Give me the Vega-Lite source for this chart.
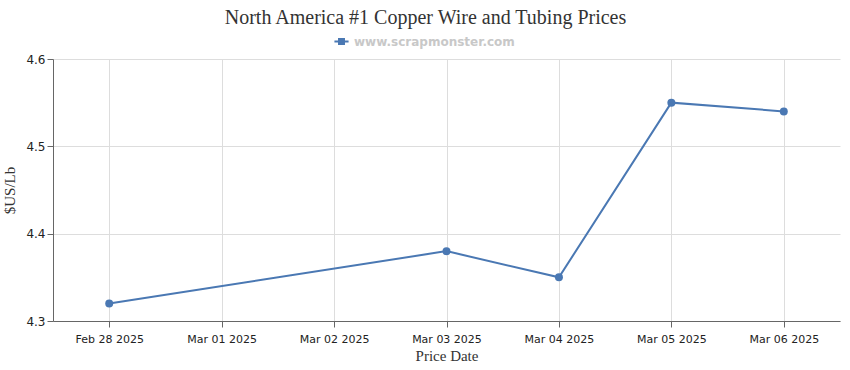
{
  "$schema": "https://vega.github.io/schema/vega-lite/v6.json",
  "width": 787,
  "height": 262,
  "autosize": {"type": "none"},
  "padding": {"left": 53, "top": 59, "right": 10, "bottom": 49},
  "background": "white",
  "title": {
    "text": "North America #1 Copper Wire and Tubing Prices",
    "font": "Liberation Serif",
    "fontSize": 20,
    "fontWeight": "normal",
    "color": "#333333",
    "anchor": "middle",
    "dx": -21,
    "offset": 5
  },
  "data": {
    "values": [
      {"date": "Feb 28 2025", "price": 4.32},
      {"date": "Mar 03 2025", "price": 4.38},
      {"date": "Mar 04 2025", "price": 4.35},
      {"date": "Mar 05 2025", "price": 4.55},
      {"date": "Mar 06 2025", "price": 4.54}
    ]
  },
  "encoding": {
    "x": {
      "field": "date",
      "type": "ordinal",
      "sort": null,
      "scale": {
        "type": "point",
        "padding": 0.5,
        "domain": ["Feb 28 2025", "Mar 01 2025", "Mar 02 2025", "Mar 03 2025", "Mar 04 2025", "Mar 05 2025", "Mar 06 2025"]
      },
      "axis": {
        "title": "Price Date",
        "labelAngle": 0,
        "grid": true,
        "labelPadding": 6,
        "titlePadding": 4
      }
    },
    "y": {
      "field": "price",
      "type": "quantitative",
      "scale": {"domain": [4.3, 4.6], "zero": false, "nice": false},
      "axis": {
        "title": "$US/Lb",
        "values": [4.3, 4.4, 4.5, 4.6],
        "format": ".1f",
        "titlePadding": 8,
        "labelFontSize": 12
      }
    },
    "color": {
      "datum": "www.scrapmonster.com",
      "type": "nominal",
      "scale": {"range": ["#4a78b3"]},
      "legend": {
        "title": null,
        "orient": "none",
        "legendX": 280,
        "legendY": -26,
        "symbolType": "M-1,0H1M-0.35,-0.35H0.35V0.35H-0.35Z",
        "symbolSize": 200,
        "symbolStrokeWidth": 2,
        "symbolFillColor": "#4a78b3",
        "labelFont": "DejaVu Sans",
        "labelFontSize": 12,
        "labelFontWeight": "bold",
        "labelColor": "#c8c8c8",
        "labelLimit": 0
      }
    }
  },
  "layer": [
    {"mark": {"type": "line", "strokeWidth": 2}},
    {"mark": {"type": "point", "filled": true, "size": 64, "opacity": 1}}
  ],
  "config": {
    "view": {"stroke": null},
    "axis": {
      "labelFont": "DejaVu Sans",
      "labelFontSize": 11,
      "labelColor": "#222222",
      "titleFont": "Liberation Serif",
      "titleFontSize": 15,
      "titleFontWeight": "normal",
      "titleColor": "#333333",
      "gridColor": "#dddddd",
      "domainColor": "#666666",
      "tickColor": "#666666",
      "tickSize": 6
    }
  }
}
